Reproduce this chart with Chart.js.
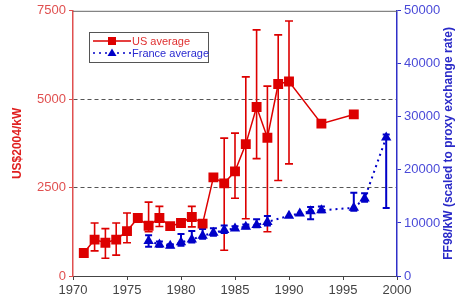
<!DOCTYPE html>
<html>
<head>
<meta charset="utf-8">
<script src="https://cdn.jsdelivr.net/npm/chart.js@4.4.1/dist/chart.umd.min.js"></script>
<style>
html,body{margin:0;padding:0;background:#fff;}
#wrap{width:462px;height:302px;}
</style>
</head>
<body>
<div id="wrap"><canvas id="c" width="462" height="302"></canvas></div>
<script>
// ---- data ----
const usYears  = [1971,1972,1973,1974,1975,1976,1977,1978,1979,1980,1981,1982,1983,1984,1985,1986,1987,1988,1989,1990,1993,1996];
const usValues = [650,1030,940,1030,1270,1640,1420,1640,1410,1500,1670,1480,2790,2620,2960,3730,4780,3910,5430,5500,4310,4570];
const usLow    = [null,710,500,590,940,null,1250,1400,null,null,1390,null,null,730,2200,1620,3320,1250,2700,3170,null,null];
const usHigh   = [null,1500,1340,1500,1780,null,2090,1970,null,null,1970,null,null,3900,4040,5630,6960,5370,6820,7210,null,null];

const frYears  = [1977,1978,1979,1980,1981,1982,1983,1984,1985,1986,1987,1988,1990,1991,1992,1993,1996,1997,1999];
const frValues = [6600,5950,5700,6350,6900,7600,8150,8650,8950,9300,9600,10200,11350,11800,12200,12400,12850,14600,26100];
const frLow    = [5500,5500,5400,5700,6300,7000,7600,8100,8700,9000,9200,9500,null,null,10700,12000,12300,14000,12800];
const frHigh   = [7700,6500,6000,7900,8500,8850,9000,9500,9400,9700,10700,11300,null,null,13000,13100,15700,15600,26700];

const xTicks  = [1970,1975,1980,1985,1990,1995,2000];
const yTicks  = [0,2500,5000,7500];
const y2Ticks = [0,10000,20000,30000,40000,50000];

const RED = '#dd0000', BLUE = '#0000c8';
const FONT = '"Liberation Sans", Arial, sans-serif';

const usData = usYears.map((x,i)=>({x, y: usValues[i]}));
const frData = frYears.map((x,i)=>({x, y: frValues[i]}));

const errorBars = {
  id: 'errorBars',
  beforeDatasetsDraw(chart) {
    const ctx = chart.ctx;
    const xs = chart.scales.x;
    const sets = [
      {years: usYears, low: usLow, high: usHigh, axis: chart.scales.y, color: RED, w: 1.6, cap: 4},
      {years: frYears, low: frLow, high: frHigh, axis: chart.scales.y2, color: BLUE, w: 2, cap: 3.5}
    ];
    ctx.save();
    sets.forEach(s => {
      ctx.strokeStyle = s.color; ctx.lineWidth = s.w; ctx.setLineDash([]);
      s.years.forEach((yr,i) => {
        if (s.low[i] == null) return;
        const px = xs.getPixelForValue(yr);
        const y1 = s.axis.getPixelForValue(s.low[i]);
        const y2 = s.axis.getPixelForValue(s.high[i]);
        ctx.beginPath();
        ctx.moveTo(px, y1); ctx.lineTo(px, y2);
        ctx.moveTo(px - s.cap, y1); ctx.lineTo(px + s.cap, y1);
        ctx.moveTo(px - s.cap, y2); ctx.lineTo(px + s.cap, y2);
        ctx.stroke();
      });
    });
    ctx.restore();
  }
};

const frame = {
  id: 'frame',
  afterDraw(chart) {
    const ctx = chart.ctx, a = chart.chartArea;
    ctx.save();
    ctx.strokeStyle = '#666'; ctx.lineWidth = 1;
    ctx.beginPath(); ctx.moveTo(a.left, a.top + 0.5); ctx.lineTo(a.right, a.top + 0.5); ctx.stroke();
    ctx.fillStyle = '#2a2ac8';
    ctx.font = 'bold 12px ' + FONT;
    ctx.translate(449, (a.top + a.bottom) / 2);
    ctx.rotate(-Math.PI / 2);
    ctx.textAlign = 'center'; ctx.textBaseline = 'middle';
    ctx.fillText('FF98/kW (scaled to proxy exchange rate)', 0, 0);
    ctx.restore();

    // legend
    ctx.save();
    const lx = 89, ly = 32, lw = 119, lh = 30;
    ctx.fillStyle = '#fff';
    ctx.fillRect(lx, ly, lw, lh);
    ctx.strokeStyle = '#555'; ctx.lineWidth = 1;
    ctx.strokeRect(lx + 0.5, ly + 0.5, lw, lh);
    ctx.strokeStyle = RED; ctx.lineWidth = 1.5;
    ctx.beginPath(); ctx.moveTo(lx + 4, ly + 9); ctx.lineTo(lx + 42, ly + 9); ctx.stroke();
    ctx.fillStyle = RED;
    ctx.fillRect(lx + 19, ly + 5, 8, 8);
    ctx.font = '11px ' + FONT; ctx.textBaseline = 'middle'; ctx.textAlign = 'left';
    ctx.fillStyle = '#e03030';
    ctx.fillText('US average', lx + 43, ly + 9.5);
    ctx.strokeStyle = BLUE; ctx.lineWidth = 1.5; ctx.setLineDash([2, 4]);
    ctx.beginPath(); ctx.moveTo(lx + 4, ly + 21); ctx.lineTo(lx + 42, ly + 21); ctx.stroke();
    ctx.setLineDash([]);
    ctx.fillStyle = BLUE;
    ctx.beginPath(); ctx.moveTo(lx + 23, ly + 16.5); ctx.lineTo(lx + 27.5, ly + 24); ctx.lineTo(lx + 18.5, ly + 24); ctx.closePath(); ctx.fill();
    ctx.fillStyle = '#2a2ad0';
    ctx.fillText('France average', lx + 43, ly + 21.5);
    ctx.restore();
  }
};

new Chart(document.getElementById('c'), {
  type: 'line',
  data: {
    datasets: [
      {
        label: 'US average', data: usData, yAxisID: 'y',
        borderColor: RED, backgroundColor: RED, borderWidth: 1.5,
        pointStyle: 'rect', pointRadius: 7, pointBorderWidth: 0,
        tension: 0
      },
      {
        label: 'France average', data: frData, yAxisID: 'y2',
        borderColor: BLUE, backgroundColor: BLUE, borderWidth: 2, borderDash: [2, 4],
        pointStyle: 'triangle', pointRadius: 6, pointBorderWidth: 0,
        tension: 0
      }
    ]
  },
  options: {
    responsive: false, animation: false, devicePixelRatio: 1,
    layout: {padding: {top: 10, left: 0, right: 0, bottom: 0}},
    plugins: {legend: {display: false}, tooltip: {enabled: false}},
    scales: {
      x: {
        type: 'linear', min: 1970, max: 2000,
        afterFit(s) { s.height = 26; },
        afterBuildTicks(s) { s.ticks = xTicks.map(v => ({value: v})); },
        ticks: {color: '#444', font: {family: FONT, size: 13}, padding: 3, maxRotation: 0, callback: v => String(v)},
        grid: {drawOnChartArea: false, tickLength: 4, tickColor: '#444'},
        border: {color: '#444', width: 1}
      },
      y: {
        position: 'left', min: 0, max: 7500,
        afterFit(s) { s.width = 73; },
        afterBuildTicks(s) { s.ticks = yTicks.map(v => ({value: v})); },
        ticks: {color: '#e05050', font: {family: FONT, size: 13}, padding: 3, callback: v => String(v)},
        grid: {
          color: c => (c.tick && (c.tick.value === 2500 || c.tick.value === 5000)) ? '#555' : 'rgba(0,0,0,0)',
          tickColor: '#e05050', tickLength: 4, lineWidth: 1
        },
        border: {color: '#e05050', width: 1.5, dash: [4, 3]},
        title: {display: true, text: 'US$2004/kW', color: '#e02020', font: {family: FONT, size: 12, weight: 'bold'}, padding: {top: 10, bottom: 0}}
      },
      y2: {
        position: 'right', min: 0, max: 50000,
        afterFit(s) { s.width = 65; },
        afterBuildTicks(s) { s.ticks = y2Ticks.map(v => ({value: v})); },
        ticks: {color: '#4a4ad8', font: {family: FONT, size: 13}, padding: 3, callback: v => String(v)},
        grid: {drawOnChartArea: false, tickColor: '#3030c8', tickLength: 4},
        border: {color: '#3030c8', width: 1.5}
      }
    }
  },
  plugins: [errorBars, frame]
});
</script>
</body>
</html>
